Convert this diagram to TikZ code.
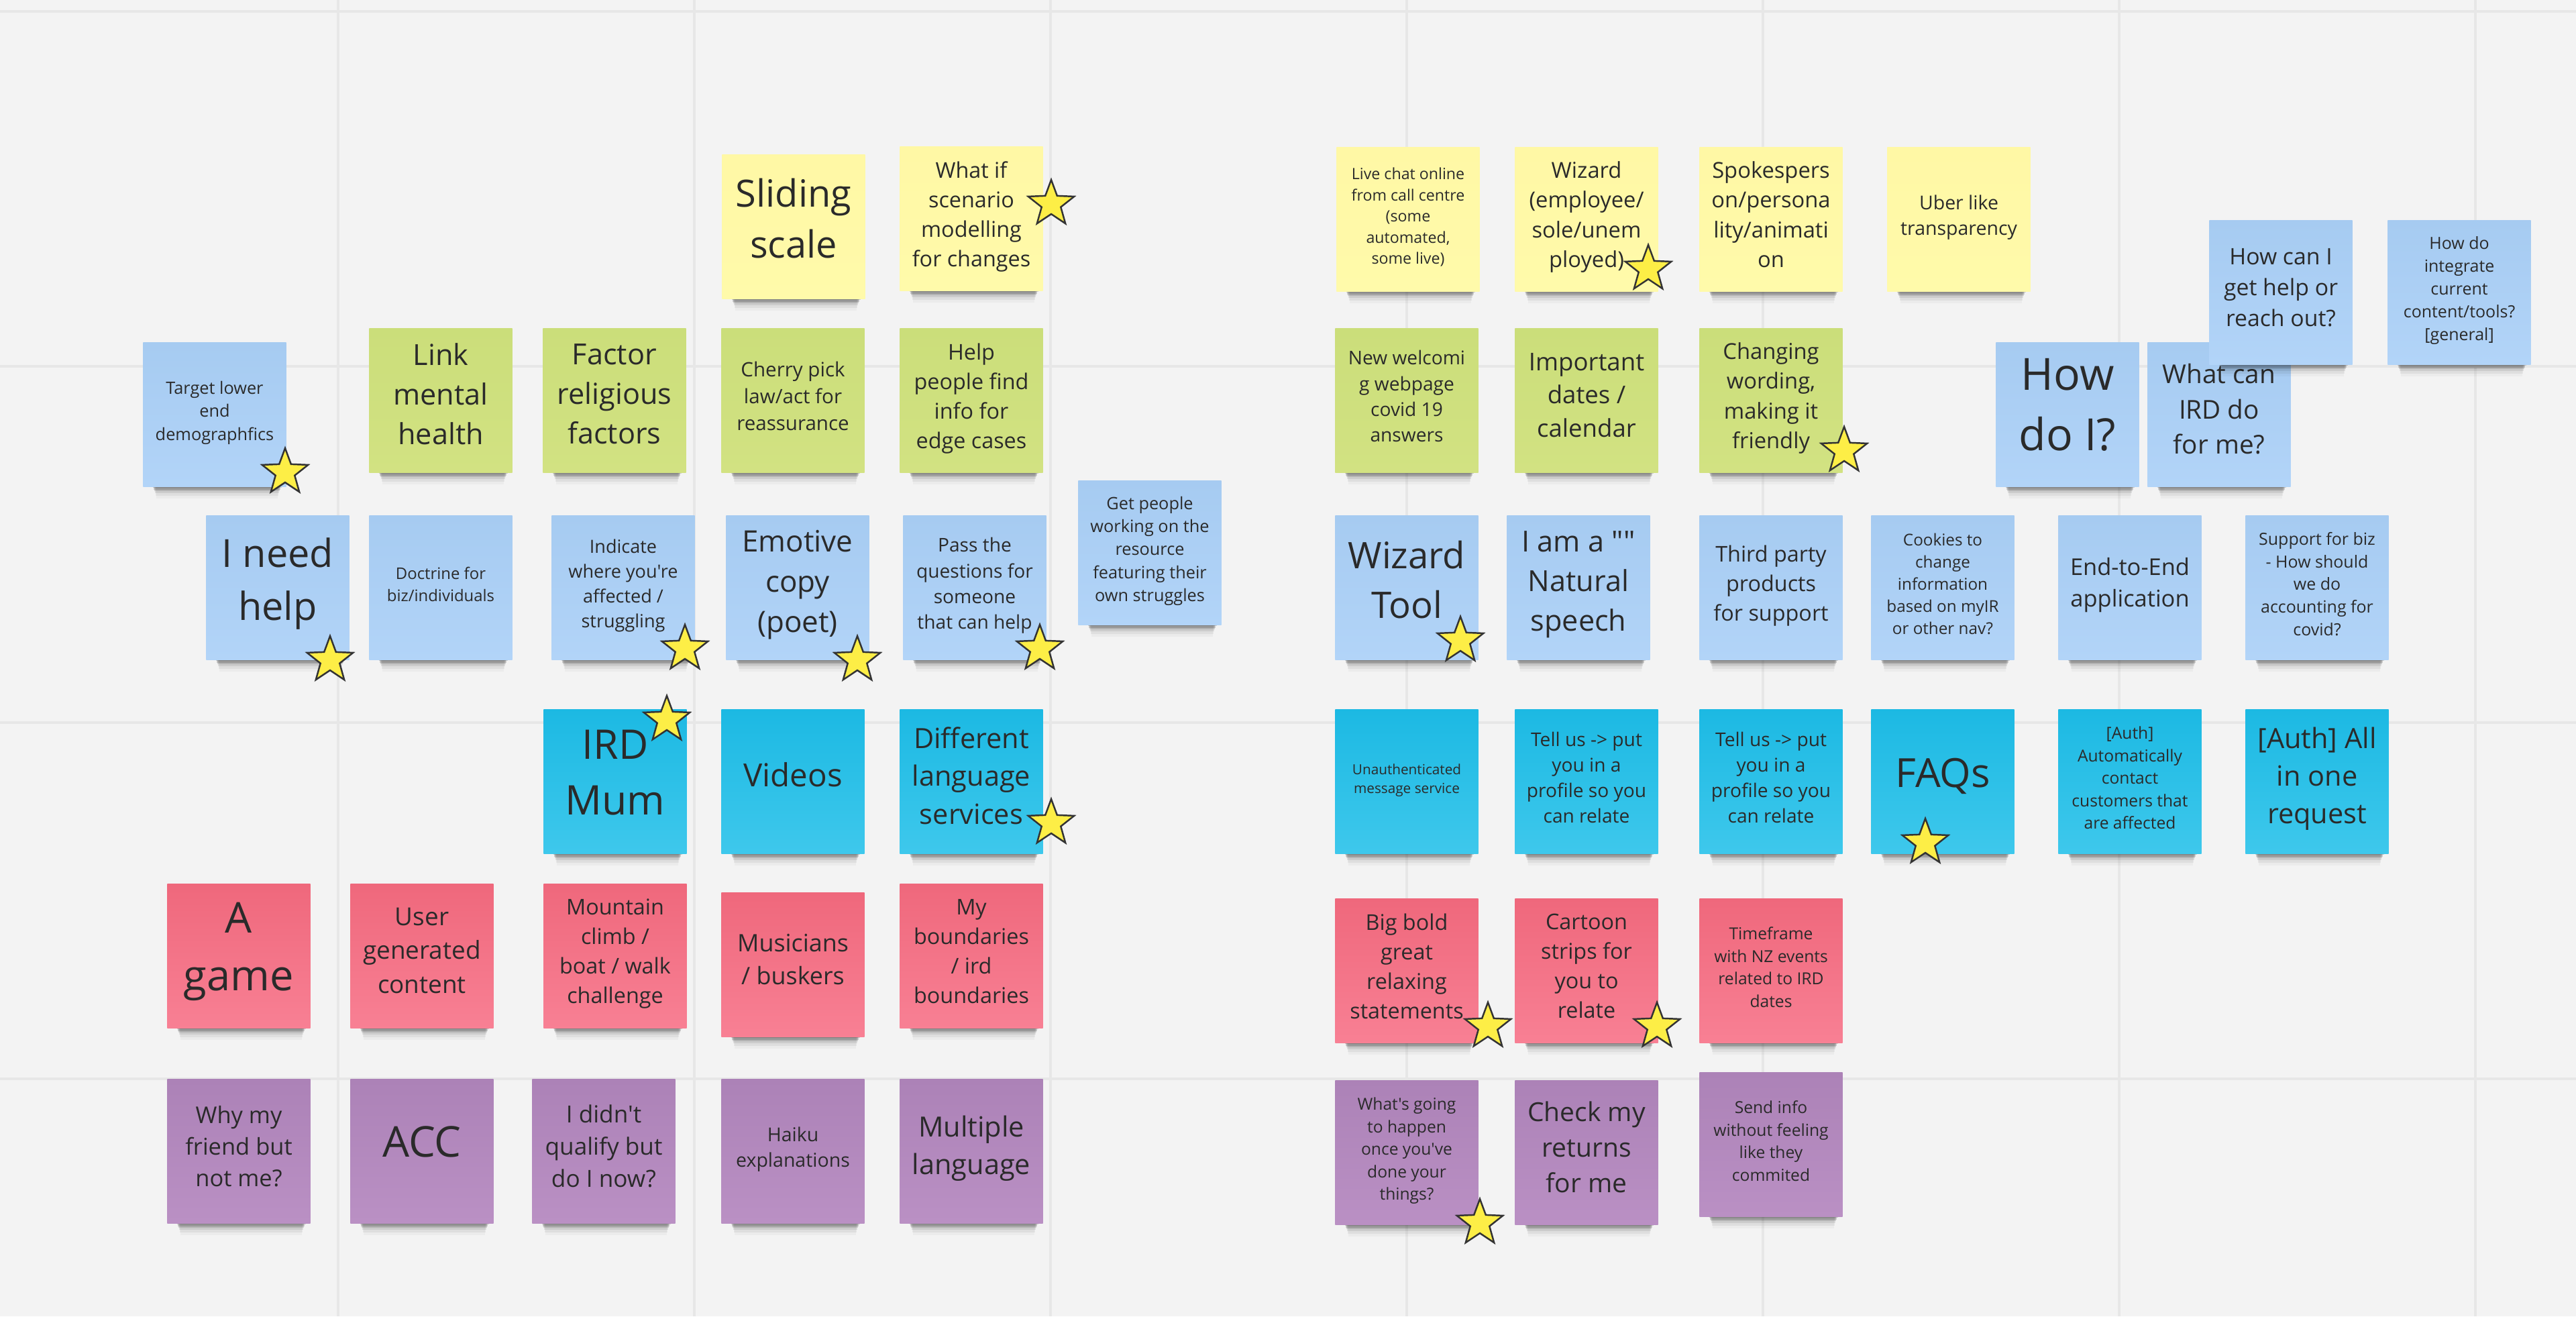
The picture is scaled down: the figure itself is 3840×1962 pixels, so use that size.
\documentclass[tikz,border=0pt]{standalone}
\usepackage{fontspec}
\newfontfamily\stickyfont{Open Sans}
\usepackage{xcolor}
\usepackage{tikz}
\usetikzlibrary{shadows,shapes.geometric}

\definecolor{board}{HTML}{F3F3F3}
\definecolor{gridline}{HTML}{E7E7E7}
\definecolor{inkdark}{HTML}{2A2A2A}

\tikzset{
    sz/.style={font=\stickyfont\fontsize{#1}{\fpeval{1.36*#1}}\selectfont,text depth=.45*#1 pt},
    softshadow/.style={
        general shadow={fill=black,opacity=.15,shadow scale=.90,shadow xshift=.04cm,shadow yshift=-.137cm},
        general shadow={fill=black,opacity=.15,shadow scale=.89,shadow xshift=.04cm,shadow yshift=-.178cm},
        general shadow={fill=black,opacity=.12,shadow scale=.88,shadow xshift=.04cm,shadow yshift=-.219cm},
        general shadow={fill=black,opacity=.08,shadow scale=.87,shadow xshift=.04cm,shadow yshift=-.27cm},
        general shadow={fill=black,opacity=.05,shadow scale=.86,shadow xshift=.04cm,shadow yshift=-.33cm},
        general shadow={fill=black,opacity=.03,shadow scale=.85,shadow xshift=.04cm,shadow yshift=-.40cm}},
    note/.style={softshadow,minimum width=2.13cm,minimum height=2.15cm,inner sep=0pt,
        align=center,text=inkdark},
    yellownote/.style={note,top color={rgb,255:red,255;green,248;blue,165},bottom color={rgb,255:red,255;green,250;blue,170}},
    greennote/.style={note,top color={rgb,255:red,203;green,222;blue,122},bottom color={rgb,255:red,210;green,226;blue,130}},
    bluenote/.style={note,top color={rgb,255:red,166;green,203;blue,241},bottom color={rgb,255:red,178;green,212;blue,248}},
    tealnote/.style={note,top color={rgb,255:red,28;green,185;blue,227},bottom color={rgb,255:red,62;green,200;blue,236}},
    rednote/.style={note,top color={rgb,255:red,239;green,104;blue,124},bottom color={rgb,255:red,248;green,128;blue,148}},
    purplenote/.style={note,top color={rgb,255:red,172;green,130;blue,183},bottom color={rgb,255:red,186;green,144;blue,196}},
    vote/.style={star,star points=5,star point ratio=2.4,minimum size=.72cm,inner sep=0pt,
        draw=black!80,line width=.7pt,fill={rgb,255:red,253;green,238;blue,70}},
    gridrule/.style={draw=gridline,line width=.04cm}
}

\begin{document}
\begin{tikzpicture}[x=.01cm,y=-.01cm]
    \useasboundingbox[fill=board] (0,0) rectangle (3840,1962);

    \draw[gridrule] (504,0) -- (504,1962);
    \draw[gridrule] (1035,0) -- (1035,1962);
    \draw[gridrule] (1566,0) -- (1566,1962);
    \draw[gridrule] (2097,0) -- (2097,1962);
    \draw[gridrule] (2628,0) -- (2628,1962);
    \draw[gridrule] (3159,0) -- (3159,1962);
    \draw[gridrule] (3690,0) -- (3690,1962);
    \draw[gridrule] (0,17) -- (3840,17);
    \draw[gridrule] (0,546) -- (3840,546);
    \draw[gridrule] (0,1077) -- (3840,1077);
    \draw[gridrule] (0,1608) -- (3840,1608);

    \node[yellownote,sz=15.9] (sliding) at (1183,338) {Sliding\\scale};
    \node[yellownote,sz=9.2] (whatif) at (1448,326) {What if\\scenario\\modelling\\for changes};
    \node[yellownote,sz=6.6] (livechat) at (2099,327) {Live chat online\\from call centre\\(some\\automated,\\some live)};
    \node[yellownote,sz=9.3] (wizard) at (2365,327) {Wizard\\(employee/\\sole/unem\\ployed)};
    \node[yellownote,sz=9.3] (spokes) at (2640,327) {Spokespers\\on/persona\\lity/animati\\on};
    \node[yellownote,sz=8.1] (uber) at (2920,327) {Uber like\\transparency};

    \node[greennote,sz=12.3] (mental) at (657,597) {Link\\mental\\health};
    \node[greennote,sz=12.3] (religious) at (916,597) {Factor\\religious\\factors};
    \node[greennote,sz=8.4] (cherry) at (1182,597) {Cherry pick\\law/act for\\reassurance};
    \node[greennote,sz=9.2] (edgecases) at (1448,597) {Help\\people find\\info for\\edge cases};
    \node[greennote,sz=8] (welcoming) at (2097,597) {New welcomi\\g webpage\\covid 19\\answers};
    \node[greennote,sz=10.4] (dates) at (2365,597) {Important\\dates /\\calendar};
    \node[greennote,sz=9.3] (wording) at (2640,597) {Changing\\wording,\\making it\\friendly};

    \node[bluenote,sz=7.2] (target) at (320,618) {Target lower\\end\\demographfics};
    \node[bluenote,sz=16.4] (needhelp) at (414,876) {I need\\help};
    \node[bluenote,sz=6.8] (doctrine) at (657,876) {Doctrine for\\biz/individuals};
    \node[bluenote,sz=7.7] (indicate) at (929,876) {Indicate\\where you're\\affected /\\struggling};
    \node[bluenote,sz=12.5] (emotive) at (1189,876) {Emotive\\copy\\(poet)};
    \node[bluenote,sz=8] (pass) at (1453,876) {Pass the\\questions for\\someone\\that can help};
    \node[bluenote,sz=7.2] (getpeople) at (1714,824) {Get people\\working on the\\resource\\featuring their\\own struggles};
    \node[bluenote,sz=15.5] (wizardtool) at (2097,876) {Wizard\\Tool};
    \node[bluenote,sz=12.3] (natural) at (2353,876) {I am a ""\\Natural\\speech};
    \node[bluenote,sz=9.2] (thirdparty) at (2640,876) {Third party\\products\\for support};
    \node[bluenote,sz=6.9] (cookies) at (2896,876) {Cookies  to\\change\\information\\based on myIR\\or other nav?};
    \node[bluenote,sz=9.8] (endtoend) at (3175,876) {End-to-End\\application};
    \node[bluenote,sz=7.1] (support) at (3454,876) {Support for biz\\- How should\\we do\\accounting for\\covid?};
    \node[bluenote,sz=18.8] (howdoi) at (3082,618) {How\\do I?};
    \node[bluenote,sz=11] (whatcan) at (3308,618) {What can\\IRD do\\for me?};
    \node[bluenote,sz=9.6] (howcan) at (3400,436) {How can I\\get help or\\reach out?};
    \node[bluenote,sz=7.1] (integrate) at (3666,436) {How do\\integrate\\current\\content/tools?\\{[general]}};

    \node[tealnote,sz=17.3] (irdmum) at (917,1165) {IRD\\Mum};
    \node[tealnote,sz=13.5] (videos) at (1182,1165) {Videos};
    \node[tealnote,sz=11.8] (language) at (1448,1165) {Different\\language\\services};
    \node[tealnote,sz=5.9] (unauth) at (2097,1165) {Unauthenticated\\message service};
    \node[tealnote,sz=8] (tellone) at (2365,1165) {Tell us -> put\\you in a\\profile so you\\can relate};
    \node[tealnote,sz=8] (telltwo) at (2640,1165) {Tell us -> put\\you in a\\profile so you\\can relate};
    \node[tealnote,sz=17] (faqs) at (2896,1165) {FAQs};
    \node[tealnote,sz=7] (autocontact) at (3175,1165) {[Auth]\\Automatically\\contact\\customers that\\are affected};
    \node[tealnote,sz=11.8] (allinone) at (3454,1165) {[Auth] All\\in one\\request};

    \node[rednote,sz=18] (agame) at (356,1425) {A\\game};
    \node[rednote,sz=10.5] (usergen) at (629,1425) {User\\generated\\content};
    \node[rednote,sz=9.2] (mountain) at (917,1425) {Mountain\\climb /\\boat / walk\\challenge};
    \node[rednote,sz=10.2] (musicians) at (1182,1438) {Musicians\\/ buskers};
    \node[rednote,sz=9.2] (boundaries) at (1448,1425) {My\\boundaries\\/ ird\\boundaries};
    \node[rednote,sz=9.2] (bigbold) at (2097,1447) {Big bold\\great\\relaxing\\statements};
    \node[rednote,sz=9.2] (cartoon) at (2365,1447) {Cartoon\\strips for\\you to\\relate};
    \node[rednote,sz=7] (timeframe) at (2640,1447) {Timeframe\\with NZ events\\related to IRD\\dates};

    \node[purplenote,sz=9.8] (whymy) at (356,1716) {Why my\\friend but\\not me?};
    \node[purplenote,sz=18] (acc) at (629,1716) {ACC};
    \node[purplenote,sz=10] (qualify) at (900,1716) {I didn't\\qualify but\\do I now?};
    \node[purplenote,sz=8.1] (haiku) at (1182,1716) {Haiku\\explanations};
    \node[purplenote,sz=11.8] (multiple) at (1448,1716) {Multiple\\language};
    \node[purplenote,sz=7] (whatsgoing) at (2097,1718) {What's going\\to happen\\once you've\\done your\\things?};
    \node[purplenote,sz=11.1] (checkmy) at (2365,1718) {Check my\\returns\\for me};
    \node[purplenote,sz=7] (sendinfo) at (2640,1706) {Send info\\without feeling\\like they\\commited};

    \node[vote] (s1) at (425,704) {};
    \node[vote] (s2) at (492,984) {};
    \node[vote] (s3) at (1021,967) {};
    \node[vote] (s4) at (1278,984) {};
    \node[vote] (s5) at (1550,967) {};
    \node[vote] (s6) at (1567,304) {};
    \node[vote] (s7) at (994,1073) {};
    \node[vote] (s8) at (1567,1227) {};
    \node[vote] (s9) at (2457,401) {};
    \node[vote] (s10) at (2749,672) {};
    \node[vote] (s11) at (2177,955) {};
    \node[vote] (s12) at (2870,1256) {};
    \node[vote] (s13) at (2218,1530) {};
    \node[vote] (s14) at (2470,1530) {};
    \node[vote] (s15) at (2206,1823) {};
\end{tikzpicture}
\end{document}
